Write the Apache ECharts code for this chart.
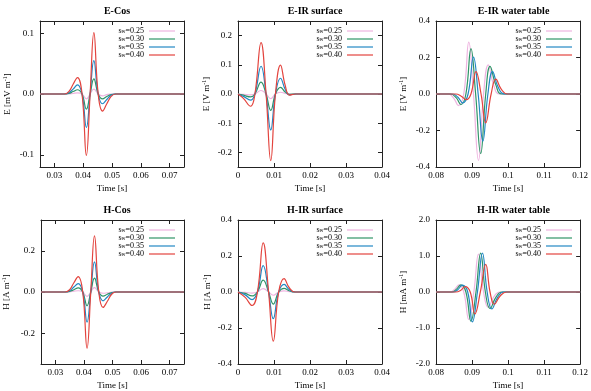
<!DOCTYPE html>
<html>
<head>
<meta charset="utf-8">
<script src="https://cdn.jsdelivr.net/npm/echarts@6/dist/echarts.min.js"></script>
<style>
  html, body { margin: 0; padding: 0; background: #fff; }
  #chart { width: 591px; height: 391px; }
</style>
</head>
<body>
<div id="chart"></div>
<script>
var chart = echarts.init(document.getElementById('chart'));

/*-- series names and colours --*/
let names = ['sw=0.25', 'sw=0.30', 'sw=0.35', 'sw=0.40'];
let colors = ['#eeb4e0', '#2f9467', '#2288c4', '#e3443e'];

/*-- E-Cos / H-Cos (same time points) --*/
let tCos = [0.025, 0.0335, 0.0350, 0.0365, 0.0380, 0.0396, 0.0411, 0.0424, 0.0437, 0.0452, 0.0467, 0.0482, 0.0497, 0.0512, 0.075];
let eCos25 = [0, 0, 0, 0.001, 0.002, 0, -0.008, 0, 0.008, 0, -0.003, -0.001, 0, 0, 0];
let eCos30 = [0, 0, 0.001, 0.004, 0.007, 0, -0.025, 0, 0.025, 0, -0.008, -0.004, -0.001, 0, 0];
let eCos35 = [0, 0, 0.002, 0.008, 0.015, 0, -0.055, 0, 0.055, 0, -0.016, -0.009, -0.002, 0, 0];
let eCos40 = [0, 0, 0.004, 0.016, 0.027, 0, -0.101, 0, 0.101, 0, -0.028, -0.016, -0.004, 0, 0];
let hCos25 = [0, 0, 0.001, 0.004, 0.006, 0, -0.021, 0, 0.021, 0, -0.006, -0.004, -0.001, 0, 0];
let hCos30 = [0, 0, 0.003, 0.011, 0.020, 0, -0.067, 0, 0.067, 0, -0.020, -0.011, -0.003, 0, 0];
let hCos35 = [0, 0, 0.006, 0.024, 0.041, 0, -0.146, 0, 0.146, 0, -0.043, -0.024, -0.006, 0, 0];
let hCos40 = [0, 0, 0.011, 0.045, 0.075, 0, -0.273, 0, 0.273, 0, -0.075, -0.045, -0.011, 0, 0];

/*-- E-IR surface --*/
let tEsurf = [0, 0.0015, 0.0035, 0.0047, 0.0064, 0.0078, 0.0091, 0.0104, 0.0118, 0.0131, 0.0143, 0.016, 0.04];
let eSurf25 = [0, -0.001, -0.003, 0, 0.012, 0, -0.016, 0, 0.006, 0.002, 0, 0, 0];
let eSurf30 = [0, -0.004, -0.010, 0, 0.041, 0, -0.056, 0, 0.023, 0.007, -0.001, 0, 0];
let eSurf35 = [0, -0.008, -0.021, 0, 0.095, 0, -0.123, 0, 0.054, 0.016, -0.003, 0, 0];
let eSurf40 = [0, -0.015, -0.042, 0, 0.176, 0, -0.228, 0, 0.099, 0.030, -0.004, 0, 0];

/*-- H-IR surface --*/
let tHsurf = [0, 0.002, 0.0039, 0.0054, 0.0070, 0.0085, 0.0098, 0.0113, 0.0128, 0.0142, 0.0158, 0.04];
let hSurf25 = [0, -0.002, -0.006, 0, 0.019, 0, -0.018, 0, 0.006, 0.002, 0, 0];
let hSurf30 = [0, -0.008, -0.022, 0, 0.066, 0, -0.067, 0, 0.020, 0.007, 0, 0];
let hSurf35 = [0, -0.016, -0.042, 0, 0.147, 0, -0.148, 0, 0.042, 0.014, 0, 0];
let hSurf40 = [0, -0.030, -0.075, 0, 0.273, 0, -0.273, 0, 0.074, 0.025, 0, 0];

/*-- E-IR water table (each curve has its own time points) --*/
let tEwt25 = [0.08, 0.0835, 0.0850, 0.0862, 0.0877, 0.0891, 0.0904, 0.0918, 0.0932, 0.0945, 0.0960, 0.0977, 0.12];
let eWt25  = [0, 0, -0.025, -0.064, 0, 0.284, 0, -0.364, 0, 0.160, 0.050, 0, 0];
let tEwt30 = [0.08, 0.0840, 0.0856, 0.0869, 0.0883, 0.0897, 0.0910, 0.0924, 0.0938, 0.0950, 0.0966, 0.0983, 0.12];
let eWt30  = [0, 0, -0.020, -0.058, 0, 0.249, 0, -0.326, 0, 0.151, 0.050, 0, 0];
let tEwt35 = [0.08, 0.0846, 0.0861, 0.0874, 0.0889, 0.0904, 0.0917, 0.0930, 0.0944, 0.0957, 0.0972, 0.0990, 0.12];
let eWt35  = [0, 0, -0.018, -0.049, 0, 0.202, 0, -0.258, 0, 0.123, 0.040, 0, 0];
let tEwt40 = [0.08, 0.0855, 0.0870, 0.0884, 0.0897, 0.0911, 0.0925, 0.0938, 0.0953, 0.0966, 0.0981, 0.0998, 0.12];
let eWt40  = [0, 0, -0.012, -0.031, 0, 0.123, 0, -0.158, 0, 0.081, 0.027, 0, 0];

/*-- H-IR water table --*/
let tHwt25 = [0.08, 0.0838, 0.0852, 0.0864, 0.0877, 0.0891, 0.0905, 0.0918, 0.0932, 0.0945, 0.0960, 0.0977, 0.12];
let hWt25  = [0, 0, 0.08, 0.20, 0, -0.76, 0, 1.05, 0, -0.43, -0.14, 0, 0];
let tHwt30 = [0.08, 0.0843, 0.0857, 0.0869, 0.0883, 0.0897, 0.0911, 0.0924, 0.0937, 0.0950, 0.0966, 0.0983, 0.12];
let hWt30  = [0, 0, 0.08, 0.20, 0, -0.81, 0, 1.08, 0, -0.46, -0.15, 0, 0];
let tHwt35 = [0.08, 0.0847, 0.0861, 0.0873, 0.0888, 0.0901, 0.0915, 0.0929, 0.0942, 0.0955, 0.0971, 0.0988, 0.12];
let hWt35  = [0, 0, 0.07, 0.19, 0, -0.83, 0, 1.08, 0, -0.47, -0.15, 0, 0];
let tHwt40 = [0.08, 0.0855, 0.0869, 0.0881, 0.0895, 0.0908, 0.0923, 0.0938, 0.0950, 0.0962, 0.0978, 0.0996, 0.12];
let hWt40  = [0, 0, 0.05, 0.15, 0, -0.61, 0, 0.77, 0, -0.34, -0.11, 0, 0];

/*-- tick values and labels --*/
let xTicksCos = [0.03, 0.04, 0.05, 0.06, 0.07];
let xLabelsCos = ['0.03', '0.04', '0.05', '0.06', '0.07'];
let xTicksSurf = [0, 0.01, 0.02, 0.03, 0.04];
let xLabelsSurf = ['0', '0.01', '0.02', '0.03', '0.04'];
let xTicksWt = [0.08, 0.09, 0.10, 0.11, 0.12];
let xLabelsWt = ['0.08', '0.09', '0.1', '0.11', '0.12'];
let yTicksEcos = [-0.1, 0, 0.1];
let yLabelsEcos = ['-0.1', '0.0', '0.1'];
let yTicksEsurf = [-0.2, -0.1, 0, 0.1, 0.2];
let yLabelsEsurf = ['-0.2', '-0.1', '0.0', '0.1', '0.2'];
let yTicks04 = [-0.4, -0.2, 0, 0.2, 0.4];
let yLabels04 = ['-0.4', '-0.2', '0.0', '0.2', '0.4'];
let yTicksHcos = [-0.2, 0, 0.2];
let yLabelsHcos = ['-0.2', '0.0', '0.2'];
let yTicksHwt = [-2, -1, 0, 1, 2];
let yLabelsHwt = ['-2.0', '-1.0', '0.0', '1.0', '2.0'];

let FONT = 'Liberation Serif';

function zip(t, v) {
    return t.map(function (x, i) { return [x, v[i]]; });
}

/*-- the six panels --*/
let panels = [
    { title: 'E-Cos', unit: ['E [mV m', ']'], grid: [40, 21, 144, 146],
      x: [0.025, 0.075, xTicksCos, xLabelsCos], y: [-0.12, 0.12, yTicksEcos, yLabelsEcos], gap: 26,
      lines: [zip(tCos, eCos25), zip(tCos, eCos30), zip(tCos, eCos35), zip(tCos, eCos40)] },
    { title: 'E-IR surface', unit: ['E [V m', ']'], grid: [238, 21, 144, 146],
      x: [0, 0.04, xTicksSurf, xLabelsSurf], y: [-0.25, 0.25, yTicksEsurf, yLabelsEsurf], gap: 25,
      lines: [zip(tEsurf, eSurf25), zip(tEsurf, eSurf30), zip(tEsurf, eSurf35), zip(tEsurf, eSurf40)] },
    { title: 'E-IR water table', unit: ['E [V m', ']'], grid: [436, 21, 145, 146],
      x: [0.08, 0.12, xTicksWt, xLabelsWt], y: [-0.4, 0.4, yTicks04, yLabels04], gap: 26,
      lines: [zip(tEwt25, eWt25), zip(tEwt30, eWt30), zip(tEwt35, eWt35), zip(tEwt40, eWt40)] },
    { title: 'H-Cos', unit: ['H [A m', ']'], grid: [40, 220, 144, 147],
      x: [0.025, 0.075, xTicksCos, xLabelsCos], y: [-0.35, 0.35, yTicksHcos, yLabelsHcos], gap: 28,
      lines: [zip(tCos, hCos25), zip(tCos, hCos30), zip(tCos, hCos35), zip(tCos, hCos40)] },
    { title: 'H-IR surface', unit: ['H [A m', ']'], grid: [238, 220, 144, 147],
      x: [0, 0.04, xTicksSurf, xLabelsSurf], y: [-0.4, 0.4, yTicks04, yLabels04], gap: 24,
      lines: [zip(tHsurf, hSurf25), zip(tHsurf, hSurf30), zip(tHsurf, hSurf35), zip(tHsurf, hSurf40)] },
    { title: 'H-IR water table', unit: ['H [mA m', ']'], grid: [436, 220, 145, 147],
      x: [0.08, 0.12, xTicksWt, xLabelsWt], y: [-2, 2, yTicksHwt, yLabelsHwt], gap: 26,
      lines: [zip(tHwt25, hWt25), zip(tHwt30, hWt30), zip(tHwt35, hWt35), zip(tHwt40, hWt40)] }
];

let option = {
    backgroundColor: '#fff',
    animation: false,
    title: [], grid: [], xAxis: [], yAxis: [], legend: [], series: []
};

function labeler(ticks, labels) {
    return function (v) {
        for (let k = 0; k < ticks.length; k++) {
            if (Math.abs(ticks[k] - v) < 1e-9) return labels[k];
        }
        return '';
    };
}

panels.forEach(function (p, i) {
    let g = p.grid;
    option.grid.push({ left: g[0], top: g[1], width: g[2], height: g[3], show: false });
    option.title.push({
        text: p.title,
        left: g[0] + g[2] / 2, top: g[1] - 20, textAlign: 'center',
        textStyle: { fontFamily: FONT, fontSize: 10, fontWeight: 'bold', color: '#000' }
    });

    let line = { show: true, onZero: false, lineStyle: { color: '#222', width: 1 } };
    let tick = { show: true, inside: true, length: 4, lineStyle: { color: '#222' } };

    // bottom / top x axes
    option.xAxis.push({
        type: 'value', gridIndex: i, min: p.x[0], max: p.x[1], position: 'bottom',
        axisLine: line, splitLine: { show: false },
        axisTick: Object.assign({ customValues: p.x[2] }, tick),
        axisLabel: { customValues: p.x[2], formatter: labeler(p.x[2], p.x[3]), margin: 4,
            fontFamily: FONT, fontSize: 9, color: '#000' },
        name: 'Time [s]', nameLocation: 'middle', nameGap: 17,
        nameTextStyle: { fontFamily: FONT, fontSize: 9, color: '#000' }
    });
    option.xAxis.push({
        type: 'value', gridIndex: i, min: p.x[0], max: p.x[1], position: 'top',
        axisLine: line, splitLine: { show: false }, axisLabel: { show: false },
        axisTick: Object.assign({ customValues: p.x[2] }, tick)
    });
    // left / right y axes
    option.yAxis.push({
        type: 'value', gridIndex: i, min: p.y[0], max: p.y[1], position: 'left',
        axisLine: line, splitLine: { show: false },
        axisTick: Object.assign({ customValues: p.y[2] }, tick),
        axisLabel: { customValues: p.y[2], formatter: labeler(p.y[2], p.y[3]), margin: 6,
            fontFamily: FONT, fontSize: 9, color: '#000' },
        name: '{a|' + p.unit[0] + '}{b|-1}{a|' + p.unit[1] + '}',
        nameLocation: 'middle', nameRotate: 90, nameGap: p.gap,
        nameTextStyle: {
            fontFamily: FONT, fontSize: 9, color: '#000',
            rich: {
                a: { fontFamily: FONT, fontSize: 9, color: '#000', lineHeight: 12 },
                b: { fontFamily: FONT, fontSize: 6, color: '#000', lineHeight: 12, verticalAlign: 'top' }
            }
        }
    });
    option.yAxis.push({
        type: 'value', gridIndex: i, min: p.y[0], max: p.y[1], position: 'right',
        axisLine: line, splitLine: { show: false }, axisLabel: { show: false },
        axisTick: Object.assign({ customValues: p.y[2] }, tick)
    });

    option.legend.push({
        orient: 'vertical', align: 'right',
        right: 591 - (g[0] + g[2] - 9), top: g[1] + 6,
        padding: 0, itemGap: 0, itemWidth: 26, itemHeight: 1.2,
        icon: 'rect',
        data: names,
        formatter: function (n) { return '{s|s}{w|w}{s|=' + n.split('=')[1] + '}'; },
        textStyle: {
            fontFamily: FONT, fontSize: 8, color: '#000',
            rich: {
                s: { fontFamily: FONT, fontSize: 8, color: '#000', lineHeight: 8 },
                w: { fontFamily: FONT, fontSize: 5.5, color: '#000', lineHeight: 8, verticalAlign: 'bottom' }
            }
        }
    });

    p.lines.forEach(function (d, k) {
        option.series.push({
            name: names[k], type: 'line',
            xAxisIndex: i * 2, yAxisIndex: i * 2,
            data: d, symbol: 'none', smooth: 0.45,
            lineStyle: { color: colors[k], width: 1.2 },
            itemStyle: { color: colors[k] },
            z: 2 + k
        });
    });
});

chart.setOption(option);
</script>
</body>
</html>
